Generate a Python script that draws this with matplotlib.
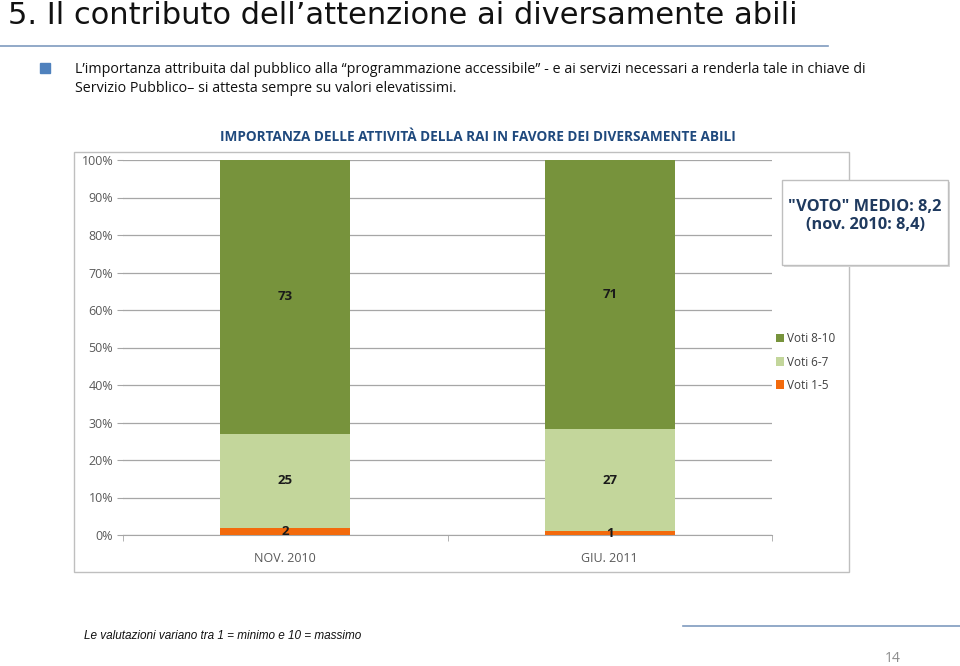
import numpy as np
import matplotlib.pyplot as plt
from matplotlib.patches import Rectangle
from matplotlib.lines import Line2D

plt.rcParams['font.family'] = ['Open Sans', 'DejaVu Sans']

periodi = ['NOV. 2010', 'GIU. 2011']
serie = ['Voti 1-5', 'Voti 6-7', 'Voti 8-10']
valori = {
    'Voti 1-5': [2, 1],
    'Voti 6-7': [25, 27],
    'Voti 8-10': [73, 71],
}
colori = {'Voti 1-5': '#F36A0C', 'Voti 6-7': '#C3D69B', 'Voti 8-10': '#77933C'}
yticks = [0, 10, 20, 30, 40, 50, 60, 70, 80, 90, 100]

W, H = 960, 666
fig = plt.figure(figsize=(W / 100, H / 100), dpi=100)

def fx(x):
    return x / W

def fy(y):
    return 1 - y / H

# intestazione della slide
fig.text(fx(8), fy(16), "5. Il contributo dell\u2019attenzione ai diversamente abili",
         fontsize=22, family=['Liberation Sans Narrow', 'DejaVu Sans'],
         va='center', ha='left', color='#111111')
fig.add_artist(Line2D([0, fx(828)], [fy(46), fy(46)], color='#7F9BBF', lw=1.2))
fig.add_artist(Rectangle((fx(40), fy(73)), fx(10), 10 / H, color='#4F81BD'))
testo = ("L\u2019importanza attribuita dal pubblico alla \u201cprogrammazione accessibile\u201d - e ai servizi necessari a renderla tale in chiave di\n"
         "Servizio Pubblico\u2013 si attesta sempre su valori elevatissimi.")
fig.text(fx(75), fy(79), testo, fontsize=10.3, family=['Open Sans', 'DejaVu Sans'],
         va='center', ha='left', linespacing=1.35, color='#111111')

# cornice del grafico
fig.add_artist(Rectangle((fx(74), fy(572)), fx(849 - 74), (572 - 152) / H,
                         fill=False, ec='#BFBFBF', lw=1))
fig.text(fx(478), fy(137), 'IMPORTANZA DELLE ATTIVIT\u00c0 DELLA RAI IN FAVORE DEI DIVERSAMENTE ABILI',
         fontsize=9.8, fontweight='bold', color='#1F497D', ha='center', va='center')

ax = fig.add_axes([fx(123), fy(535), fx(772 - 123), (535 - 160) / H])
x = np.arange(len(periodi))
tot = np.sum([valori[s] for s in serie], axis=0)
base = np.zeros(len(periodi))
for s in serie:
    perc = np.array(valori[s]) / tot * 100
    ax.bar(x, perc, bottom=base, width=0.4, color=colori[s], label=s, zorder=3)
    for xi, b, p, v in zip(x, base, perc, valori[s]):
        ax.text(xi, b + p / 2, str(v), ha='center', va='center', fontsize=9.5,
                fontweight='bold', color='#1A1A1A', zorder=4)
    base = base + perc

ax.set_xlim(-0.5, 1.5)
ax.set_ylim(0, 100)
ax.set_yticks(yticks)
ax.set_yticklabels([f'{t}%' for t in yticks], fontsize=9, color='#595959')
ax.set_xticks(x)
ax.set_xticklabels(periodi, fontsize=9, color='#595959')
ax.tick_params(axis='x', length=0, pad=12)
ax.tick_params(axis='y', length=4, color='#A6A6A6', pad=3)
ax.set_xticks([-0.5, 0.5, 1.5], minor=True)
ax.tick_params(axis='x', which='minor', length=4, color='#A6A6A6')
ax.grid(axis='y', color='#A6A6A6', lw=0.9, zorder=0)
for sp in ['top', 'right']:
    ax.spines[sp].set_visible(False)
ax.spines['left'].set_visible(False)
ax.spines['bottom'].set_color('#A6A6A6')

handles, labels = ax.get_legend_handles_labels()
leg = fig.legend(handles[::-1], labels[::-1], loc='center left',
                 bbox_to_anchor=(fx(765), fy(362)), frameon=False, fontsize=8.5,
                 handlelength=0.7, handleheight=0.7, handletextpad=0.3,
                 labelspacing=0.85, labelcolor='#404040')

# riquadro voto medio
fig.add_artist(Rectangle((fx(784), fy(267)), fx(948 - 782), (265 - 180) / H,
                         fc='#D9D9D9', ec='none', zorder=5))
fig.add_artist(Rectangle((fx(782), fy(265)), fx(948 - 782), (265 - 180) / H,
                         fc='white', ec='#BFBFBF', lw=1, zorder=6))
fig.text(fx(865), fy(216), '"VOTO" MEDIO: 8,2\n(nov. 2010: 8,4)', fontsize=11.8,
         fontweight='bold', color='#1F3A5F', ha='center', va='center',
         linespacing=1.1, zorder=7)

# piè di pagina
fig.text(fx(84), fy(636), 'Le valutazioni variano tra 1 = minimo e 10 = massimo',
         fontsize=8.5, style='italic', family=['Liberation Sans', 'DejaVu Sans'],
         ha='left', va='center', color='#111111')
fig.add_artist(Line2D([fx(683), 1], [fy(626), fy(626)], color='#7F9BBF', lw=1.2))
fig.text(fx(893), fy(658), '14', fontsize=10, color='#8C8C8C', ha='center', va='center')

fig.savefig('out.png', dpi=100)
